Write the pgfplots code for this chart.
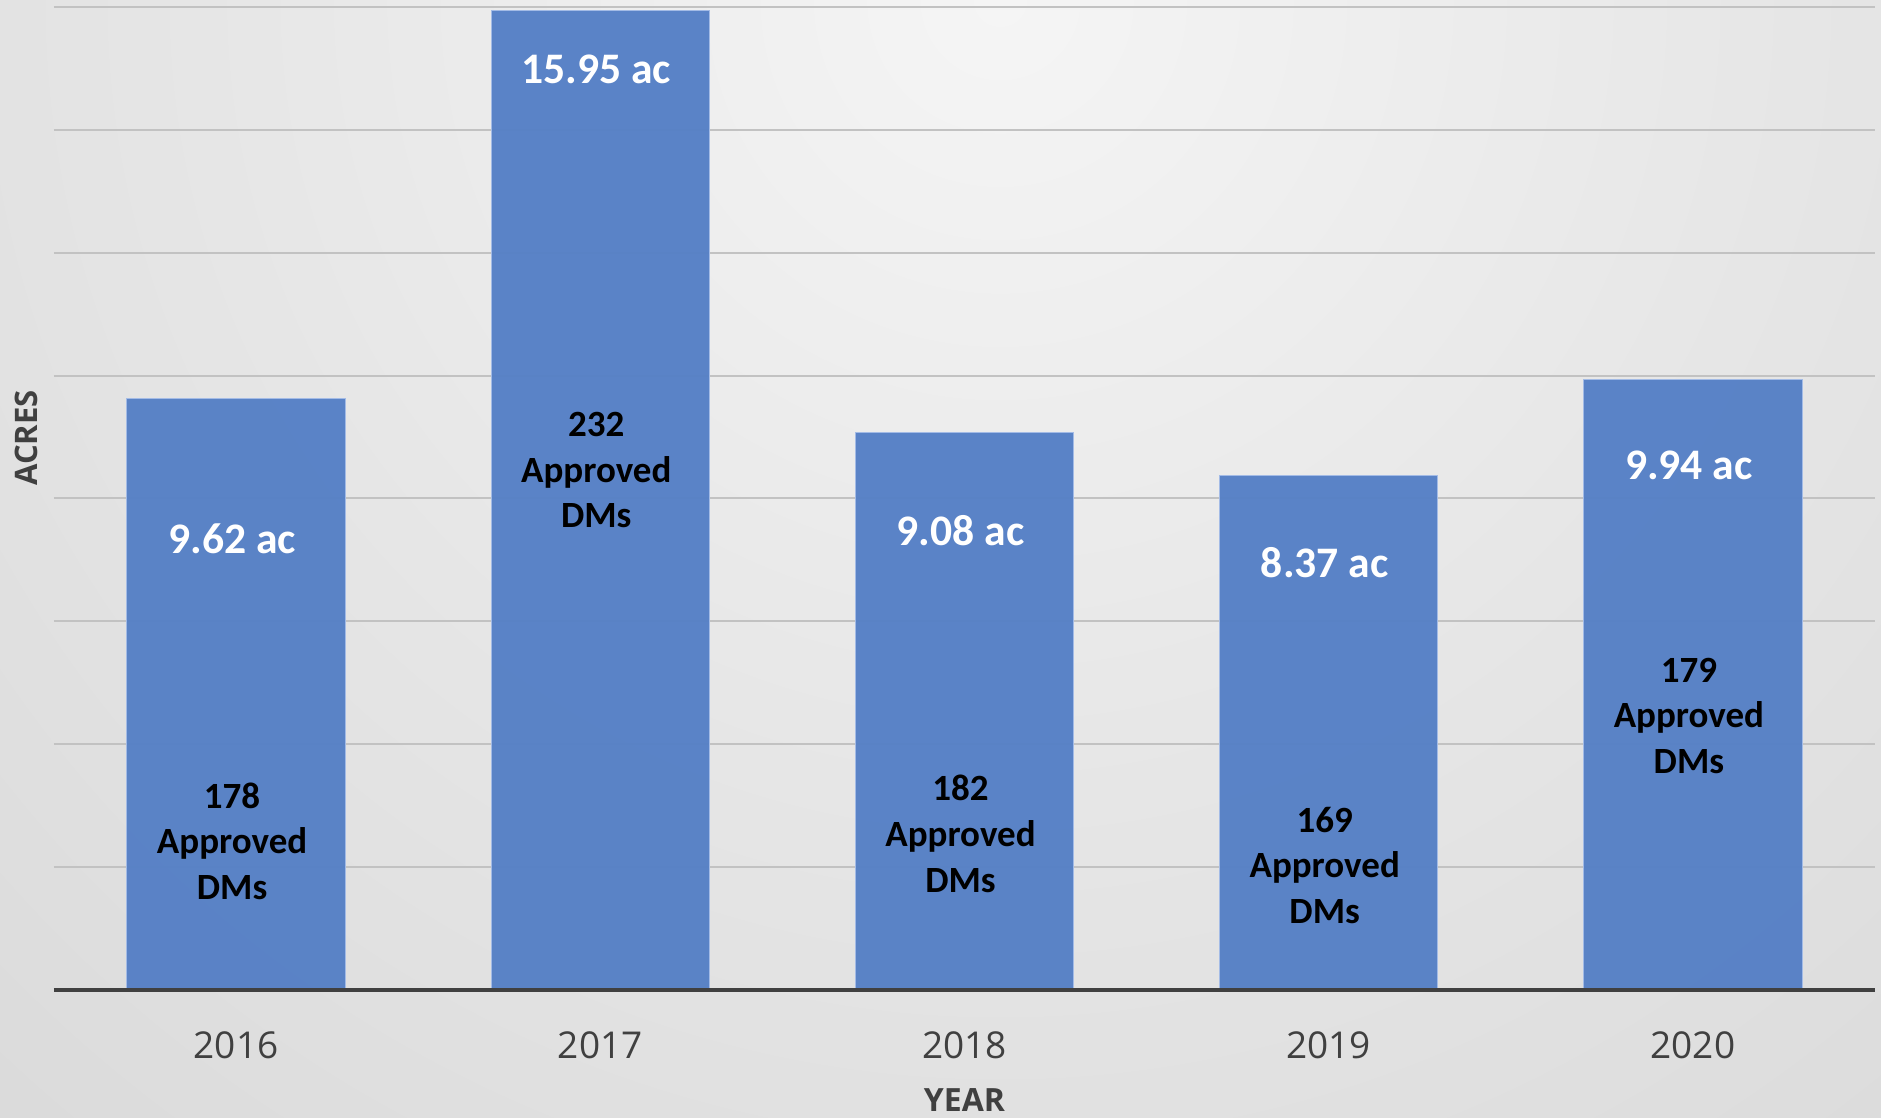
\documentclass[border=0pt]{standalone}
\usepackage{pgfplots}
\pgfplotsset{compat=1.18}
\usepackage{fontspec}
\setmainfont{Open Sans}
\newfontfamily\barfont{Carlito}
\definecolor{barblue}{HTML}{5680C6}
\definecolor{barborder}{HTML}{A3BBE6}
\definecolor{labc}{HTML}{404040}
\definecolor{basec}{HTML}{404040}
\definecolor{gridc}{HTML}{C2C2C2}
\definecolor{bgca}{HTML}{F5F5F5}
\definecolor{bgcb}{HTML}{E6E6E6}
\definecolor{bgcc}{HTML}{D6D6D6}
\definecolor{bgcd}{HTML}{CBCBCB}
\definecolor{bgce}{HTML}{C5C5C5}
\pgfdeclareradialshading{bgshade}{\pgfpoint{0bp}{0bp}}{color(0bp)=(bgca); color(12.5bp)=(bgcb); color(28bp)=(bgcc); color(40bp)=(bgcd); color(50bp)=(bgce)}
\begin{document}
\begin{tikzpicture}[x=1pt,y=1pt]
\path[use as bounding box] (-27,-64) rectangle (913.5,495);
\begin{scope}
\clip (-27,-64) rectangle (913.5,495);
\shade[shading=bgshade] (473,495) circle (800);
\end{scope}
\begin{axis}[
  at={(0,0)}, anchor=south west,
  scale only axis, width=910.5pt, height=491.5pt,
  xmin=-0.5, xmax=4.5, ymin=0, ymax=16,
  ytick={2,4,...,16}, yticklabels={},
  ymajorgrids, grid style={line width=1pt, color=gridc},
  xtick={0,1,2,3,4}, xticklabels={2016,2017,2018,2019,2020},
  major tick length=0pt,
  axis line style={draw=none},
  ybar, bar width=0.6,
  clip=false,
  xticklabel style={font=\fontsize{18.5}{22}\selectfont, text=labc, anchor=center, yshift=-27.5pt},
]
\addplot[fill=barblue, fill opacity=0.97, draw=barborder, line width=0.5pt]
  coordinates {(0,9.62) (1,15.95) (2,9.08) (3,8.37) (4,9.94)};
\draw[line width=2pt, color=basec] (rel axis cs:0,0) -- (rel axis cs:1,0);
\tikzset{aclab/.style={font=\barfont\bfseries\fontsize{21.8}{26}\selectfont, text=white, xshift=-2pt},
         dmlab/.style={font=\barfont\bfseries\fontsize{18.5}{22.8}\selectfont, text=black, align=center, xshift=-2pt}}
\node[aclab] at (axis cs:0,7.35) {9.62 ac};
\node[aclab] at (axis cs:1,14.99) {15.95 ac};
\node[aclab] at (axis cs:2,7.47) {9.08 ac};
\node[aclab] at (axis cs:3,6.96) {8.37 ac};
\node[aclab] at (axis cs:4,8.54) {9.94 ac};
\node[dmlab] at (axis cs:0,2.42) {178\\Approved\\DMs};
\node[dmlab] at (axis cs:1,8.46) {232\\Approved\\DMs};
\node[dmlab] at (axis cs:2,2.54) {182\\Approved\\DMs};
\node[dmlab] at (axis cs:3,2.03) {169\\Approved\\DMs};
\node[dmlab] at (axis cs:4,4.46) {179\\Approved\\DMs};
\node[rotate=90, font=\bfseries\fontsize{15.5}{18}\selectfont, text=labc] at (rel axis cs:-0.0154,0.5616) {ACRES};
\node[font=\bfseries\fontsize{16}{19}\selectfont, text=labc] at (rel axis cs:0.5,-0.1119) {YEAR};
\end{axis}
\end{tikzpicture}
\end{document}
